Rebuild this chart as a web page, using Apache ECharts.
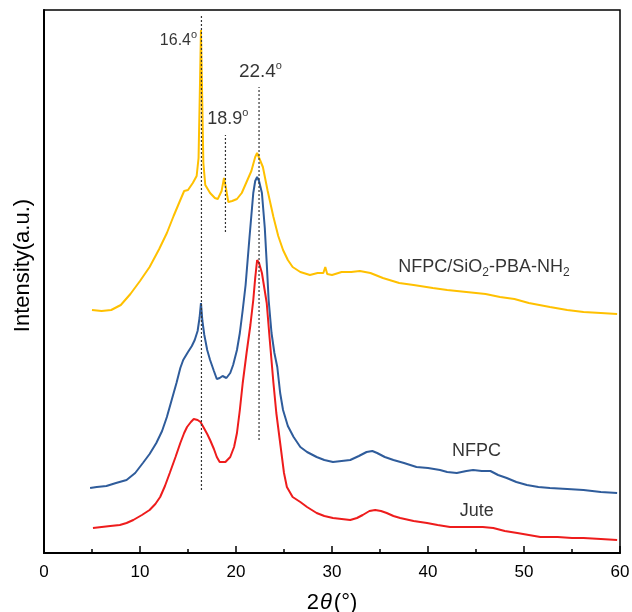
<!DOCTYPE html>
<html><head><meta charset="utf-8">
<script src="https://cdn.jsdelivr.net/npm/echarts@6/dist/echarts.min.js"></script>
<style>html,body{margin:0;padding:0;background:#fff}#c{width:632px;height:612px}</style>
</head><body><div id="c"></div>
<script>
// 2θ (deg) vs intensity (arbitrary units, stacked offsets)
const juteData = [[5.1,25],[6,26],[6.9,27],[7.9,28],[8.6,30],[9.3,33],[10.2,38],[11.0,43],[11.6,49],[12.1,56],[12.6,67],[13.1,80],[13.7,96],[14.2,110],[14.6,120],[14.9,126],[15.3,131],[15.6,134],[16.0,133],[16.3,131],[16.6,126],[17.0,119],[17.3,113],[17.7,104],[18.0,96],[18.3,91],[18.5,90],[18.9,91],[19.4,96],[19.8,106],[20.1,120],[20.4,143],[20.7,170],[21.1,200],[21.5,228],[21.8,253],[22.0,275],[22.2,293],[22.4,290],[22.7,280],[23.0,262],[23.2,250],[23.5,215],[23.9,170],[24.2,140],[24.6,110],[25.0,80],[25.3,66],[25.9,56],[26.7,51],[27.4,46],[28.4,40],[29.2,37],[30.1,35],[31,34],[31.9,33],[32.6,35],[33.2,38],[33.9,42],[34.5,43],[35.1,42],[35.7,40],[36.4,37],[37.1,35],[38.5,32],[39.9,30],[41,28],[42.3,26],[43.5,26],[44.7,26],[45.7,26],[46.8,25],[48,22],[49.3,20],[50.5,18],[51.7,16],[53.5,16],[55,15],[56.2,15],[58,14],[59.7,13]];
const nfpcData = [[4.8,65],[5.5,66],[6.5,67],[7.5,70],[8.6,73],[9.5,80],[10.3,90],[11,99],[11.7,110],[12.3,122],[12.8,136],[13.3,153],[13.8,170],[14.2,185],[14.5,193],[15.0,201],[15.4,207],[15.7,213],[16.0,222],[16.2,235],[16.35,250],[16.5,232],[16.7,218],[17.0,203],[17.3,193],[17.7,182],[18.0,174],[18.3,175],[18.6,177],[19.0,175],[19.4,180],[19.7,188],[20.1,203],[20.4,220],[20.7,243],[21.0,268],[21.4,315],[21.8,360],[22.0,372],[22.2,376],[22.4,372],[22.7,360],[23.0,325],[23.2,290],[23.4,253],[23.7,220],[24.0,200],[24.3,186],[24.6,160],[24.9,143],[25.4,127],[26.0,116],[26.7,106],[27.4,101],[28.4,96],[29.2,93],[30.1,91],[31,92],[31.9,93],[32.8,97],[33.6,101],[34.2,102],[34.7,100],[35.5,96],[36.4,93],[37.5,90],[38.8,86],[40,85],[41.25,83],[42,81],[43,80],[44,82],[44.7,83],[45.6,82],[46.5,82],[47.3,78],[48.2,75],[49.2,71],[50.3,68],[51.5,66],[52.7,65],[54.5,64],[56.2,63],[58,61],[59.7,60]];
const sio2Data = [[5,243],[6,242],[7,243],[8,248],[9,259],[10,272],[11,286],[12,304],[12.8,320],[13.5,337],[14.2,353],[14.6,362],[15.0,363],[15.5,370],[15.9,377],[16.1,395],[16.25,470],[16.35,523],[16.45,470],[16.6,390],[16.8,368],[17.3,360],[17.8,355],[18.1,354],[18.5,362],[18.75,375],[18.95,365],[19.2,351],[19.6,352],[20.1,354],[20.6,360],[21.1,371],[21.6,382],[22.0,396],[22.2,400],[22.5,393],[22.8,386],[23.3,362],[23.9,336],[24.4,317],[24.9,303],[25.4,293],[25.9,286],[26.7,281],[27.7,278],[28.5,280],[29.1,280],[29.3,286],[29.5,279],[30.0,278],[31,281],[32,281],[32.9,282],[34,280],[35.3,275],[37,270],[38.5,268],[40.5,265],[42,263],[44,261],[46,259],[47.5,256],[49,254],[50.5,250],[52.7,246],[54.5,243],[56.2,241],[58,240],[59.7,239]];
// reference lines: [position, yFrom, yTo]
const peakLines = [[16.4,63,538],[18.9,321,418],[22.4,113,466]];
const xTicks = {min:0, max:60, interval:10};

const FF = 'Liberation Sans, Arial, sans-serif';
const rich = {
  n16:{fontSize:16,fontFamily:FF,color:'#000',lineHeight:22},
  n18:{fontSize:18,fontFamily:FF,color:'#000',lineHeight:24},
  n19:{fontSize:19,fontFamily:FF,color:'#000',lineHeight:24},
  sup:{fontSize:11,fontFamily:FF,color:'#000',verticalAlign:'top',lineHeight:24},
  sub:{fontSize:12,fontFamily:FF,color:'#000',verticalAlign:'bottom',lineHeight:24}
};
function txt(x,y,fmt,pos){
  return {value:[x,y],label:{show:true,position:pos||'right',distance:0,color:'#000',textBorderWidth:0,formatter:fmt,rich:rich}};
}
const labelData = [
  txt(15.95,512,'{n16|16.4}{sup|o}','left'),
  txt(17.0,434,'{n18|18.9}{sup|o}'),
  txt(20.3,481,'{n19|22.4}{sup|o}'),
  txt(36.9,286,'{n18|NFPC/SiO}{sub|2}{n18|-PBA-NH}{sub|2}'),
  txt(42.5,102,'{n18|NFPC}'),
  txt(43.3,42,'{n18|Jute}')
];

const chart = echarts.init(document.getElementById('c'));
const series = [
  {type:'line',data:juteData,showSymbol:false,symbol:'none',lineStyle:{color:'#EE1C1C',width:2},z:3},
  {type:'line',data:nfpcData,showSymbol:false,symbol:'none',lineStyle:{color:'#2F5C9B',width:2},z:3},
  {type:'line',data:sio2Data,showSymbol:false,symbol:'none',lineStyle:{color:'#FFC000',width:2},z:3}
];
peakLines.forEach(p=>{
  series.push({type:'line',data:[[p[0],p[1]],[p[0],p[2]]],symbol:'none',lineStyle:{color:'#333',width:1.2,type:[2,2]},z:5,silent:true});
});
series.push({type:'scatter',data:labelData,symbolSize:0,z:6,silent:true,itemStyle:{color:'#000'}});

chart.setOption({
  animation:false,
  grid:{left:44,right:12,top:10,bottom:59,outerBoundsMode:'none',containLabel:false,show:true,borderColor:'#000',borderWidth:1.5,backgroundColor:'transparent'},
  xAxis:{type:'value',min:xTicks.min,max:xTicks.max,interval:xTicks.interval,
    axisLine:{lineStyle:{color:'#000',width:2}},
    axisTick:{inside:true,length:7,lineStyle:{color:'#000',width:1.5}},
    minorTick:{show:true,splitNumber:2,length:4,lineStyle:{color:'#000',width:1.5}},
    splitLine:{show:false},
    axisLabel:{color:'#000',fontSize:17,fontFamily:FF,margin:11},
    name:'{a|2}{b|θ}{a|(°)}',nameLocation:'middle',nameGap:39,
    nameTextStyle:{fontStyle:'normal',rich:{a:{fontSize:22,fontFamily:FF,fontStyle:'normal',color:'#000'},b:{fontSize:22,fontFamily:FF,fontStyle:'italic',color:'#000',padding:[0,2,0,1]}}}
  },
  yAxis:{type:'value',min:0,max:543,
    axisLine:{show:true,lineStyle:{color:'#000',width:2}},
    axisTick:{show:false},axisLabel:{show:false},splitLine:{show:false},
    name:'Intensity(a.u.)',nameLocation:'middle',nameGap:10,
    nameTextStyle:{fontSize:22,fontFamily:FF,color:'#000',padding:[0,0,0,32]}
  },
  series:series
});
</script></body></html>
